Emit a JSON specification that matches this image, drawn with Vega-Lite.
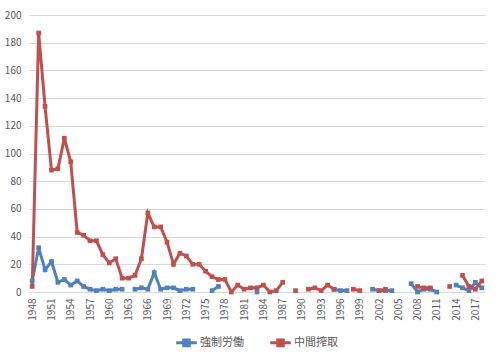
{
  "$schema": "https://vega.github.io/schema/vega-lite/v6.json",
  "autosize": {"type": "fit", "contains": "padding"},
  "width": 500,
  "height": 360,
  "padding": {"left": 4, "top": 10, "right": 12, "bottom": 8},
  "background": "white",
  "config": {
    "font": "Noto Sans CJK JP",
    "view": {"stroke": null},
    "axis": {"labelColor": "#595959", "labelFontSize": 10, "gridColor": "#D9D9D9", "domainColor": "#D9D9D9", "tickColor": "#D9D9D9"},
    "legend": {"layout": {"bottom": {"anchor": "middle"}}}
  },
  "datasets": {
    "rows": [
      {"year": 1948, "s": "強制労働", "v": 8}, {"year": 1948, "s": "中間搾取", "v": 4},
      {"year": 1949, "s": "強制労働", "v": 32}, {"year": 1949, "s": "中間搾取", "v": 187},
      {"year": 1950, "s": "強制労働", "v": 16}, {"year": 1950, "s": "中間搾取", "v": 134},
      {"year": 1951, "s": "強制労働", "v": 22}, {"year": 1951, "s": "中間搾取", "v": 88},
      {"year": 1952, "s": "強制労働", "v": 7}, {"year": 1952, "s": "中間搾取", "v": 89},
      {"year": 1953, "s": "強制労働", "v": 9}, {"year": 1953, "s": "中間搾取", "v": 111},
      {"year": 1954, "s": "強制労働", "v": 5}, {"year": 1954, "s": "中間搾取", "v": 94},
      {"year": 1955, "s": "強制労働", "v": 8}, {"year": 1955, "s": "中間搾取", "v": 43},
      {"year": 1956, "s": "強制労働", "v": 4}, {"year": 1956, "s": "中間搾取", "v": 41},
      {"year": 1957, "s": "強制労働", "v": 2}, {"year": 1957, "s": "中間搾取", "v": 37},
      {"year": 1958, "s": "強制労働", "v": 1}, {"year": 1958, "s": "中間搾取", "v": 37},
      {"year": 1959, "s": "強制労働", "v": 2}, {"year": 1959, "s": "中間搾取", "v": 27},
      {"year": 1960, "s": "強制労働", "v": 1}, {"year": 1960, "s": "中間搾取", "v": 21},
      {"year": 1961, "s": "強制労働", "v": 2}, {"year": 1961, "s": "中間搾取", "v": 24},
      {"year": 1962, "s": "強制労働", "v": 2}, {"year": 1962, "s": "中間搾取", "v": 10},
      {"year": 1963, "s": "強制労働", "v": null}, {"year": 1963, "s": "中間搾取", "v": 10},
      {"year": 1964, "s": "強制労働", "v": 2}, {"year": 1964, "s": "中間搾取", "v": 12},
      {"year": 1965, "s": "強制労働", "v": 3}, {"year": 1965, "s": "中間搾取", "v": 24},
      {"year": 1966, "s": "強制労働", "v": 2}, {"year": 1966, "s": "中間搾取", "v": 57},
      {"year": 1967, "s": "強制労働", "v": 14}, {"year": 1967, "s": "中間搾取", "v": 47},
      {"year": 1968, "s": "強制労働", "v": 2}, {"year": 1968, "s": "中間搾取", "v": 47},
      {"year": 1969, "s": "強制労働", "v": 3}, {"year": 1969, "s": "中間搾取", "v": 36},
      {"year": 1970, "s": "強制労働", "v": 3}, {"year": 1970, "s": "中間搾取", "v": 20},
      {"year": 1971, "s": "強制労働", "v": 1}, {"year": 1971, "s": "中間搾取", "v": 28},
      {"year": 1972, "s": "強制労働", "v": 2}, {"year": 1972, "s": "中間搾取", "v": 26},
      {"year": 1973, "s": "強制労働", "v": 2}, {"year": 1973, "s": "中間搾取", "v": 20},
      {"year": 1974, "s": "強制労働", "v": null}, {"year": 1974, "s": "中間搾取", "v": 20},
      {"year": 1975, "s": "強制労働", "v": null}, {"year": 1975, "s": "中間搾取", "v": 15},
      {"year": 1976, "s": "強制労働", "v": 1}, {"year": 1976, "s": "中間搾取", "v": 11},
      {"year": 1977, "s": "強制労働", "v": 4}, {"year": 1977, "s": "中間搾取", "v": 9},
      {"year": 1978, "s": "強制労働", "v": null}, {"year": 1978, "s": "中間搾取", "v": 9},
      {"year": 1979, "s": "強制労働", "v": null}, {"year": 1979, "s": "中間搾取", "v": 0},
      {"year": 1980, "s": "強制労働", "v": null}, {"year": 1980, "s": "中間搾取", "v": 5},
      {"year": 1981, "s": "強制労働", "v": null}, {"year": 1981, "s": "中間搾取", "v": 2},
      {"year": 1982, "s": "強制労働", "v": null}, {"year": 1982, "s": "中間搾取", "v": 3},
      {"year": 1983, "s": "強制労働", "v": 0}, {"year": 1983, "s": "中間搾取", "v": 3},
      {"year": 1984, "s": "強制労働", "v": null}, {"year": 1984, "s": "中間搾取", "v": 5},
      {"year": 1985, "s": "強制労働", "v": null}, {"year": 1985, "s": "中間搾取", "v": 0},
      {"year": 1986, "s": "強制労働", "v": null}, {"year": 1986, "s": "中間搾取", "v": 1},
      {"year": 1987, "s": "強制労働", "v": null}, {"year": 1987, "s": "中間搾取", "v": 7},
      {"year": 1988, "s": "強制労働", "v": null}, {"year": 1988, "s": "中間搾取", "v": null},
      {"year": 1989, "s": "強制労働", "v": null}, {"year": 1989, "s": "中間搾取", "v": 1},
      {"year": 1990, "s": "強制労働", "v": null}, {"year": 1990, "s": "中間搾取", "v": null},
      {"year": 1991, "s": "強制労働", "v": null}, {"year": 1991, "s": "中間搾取", "v": 2},
      {"year": 1992, "s": "強制労働", "v": null}, {"year": 1992, "s": "中間搾取", "v": 3},
      {"year": 1993, "s": "強制労働", "v": null}, {"year": 1993, "s": "中間搾取", "v": 1},
      {"year": 1994, "s": "強制労働", "v": null}, {"year": 1994, "s": "中間搾取", "v": 5},
      {"year": 1995, "s": "強制労働", "v": 2}, {"year": 1995, "s": "中間搾取", "v": 2},
      {"year": 1996, "s": "強制労働", "v": 1}, {"year": 1996, "s": "中間搾取", "v": null},
      {"year": 1997, "s": "強制労働", "v": 1}, {"year": 1997, "s": "中間搾取", "v": null},
      {"year": 1998, "s": "強制労働", "v": null}, {"year": 1998, "s": "中間搾取", "v": 2},
      {"year": 1999, "s": "強制労働", "v": null}, {"year": 1999, "s": "中間搾取", "v": 1},
      {"year": 2000, "s": "強制労働", "v": null}, {"year": 2000, "s": "中間搾取", "v": null},
      {"year": 2001, "s": "強制労働", "v": 2}, {"year": 2001, "s": "中間搾取", "v": null},
      {"year": 2002, "s": "強制労働", "v": 1}, {"year": 2002, "s": "中間搾取", "v": 1},
      {"year": 2003, "s": "強制労働", "v": 1}, {"year": 2003, "s": "中間搾取", "v": 2},
      {"year": 2004, "s": "強制労働", "v": 1}, {"year": 2004, "s": "中間搾取", "v": null},
      {"year": 2005, "s": "強制労働", "v": null}, {"year": 2005, "s": "中間搾取", "v": null},
      {"year": 2006, "s": "強制労働", "v": null}, {"year": 2006, "s": "中間搾取", "v": null},
      {"year": 2007, "s": "強制労働", "v": 6}, {"year": 2007, "s": "中間搾取", "v": null},
      {"year": 2008, "s": "強制労働", "v": 0}, {"year": 2008, "s": "中間搾取", "v": 4},
      {"year": 2009, "s": "強制労働", "v": 2}, {"year": 2009, "s": "中間搾取", "v": 3},
      {"year": 2010, "s": "強制労働", "v": 2}, {"year": 2010, "s": "中間搾取", "v": 3},
      {"year": 2011, "s": "強制労働", "v": 0}, {"year": 2011, "s": "中間搾取", "v": null},
      {"year": 2012, "s": "強制労働", "v": null}, {"year": 2012, "s": "中間搾取", "v": null},
      {"year": 2013, "s": "強制労働", "v": null}, {"year": 2013, "s": "中間搾取", "v": 4},
      {"year": 2014, "s": "強制労働", "v": 5}, {"year": 2014, "s": "中間搾取", "v": null},
      {"year": 2015, "s": "強制労働", "v": 3}, {"year": 2015, "s": "中間搾取", "v": 12},
      {"year": 2016, "s": "強制労働", "v": 1}, {"year": 2016, "s": "中間搾取", "v": 4},
      {"year": 2017, "s": "強制労働", "v": 7}, {"year": 2017, "s": "中間搾取", "v": 2},
      {"year": 2018, "s": "強制労働", "v": 3}, {"year": 2018, "s": "中間搾取", "v": 8}
    ]
  },
  "data": {"name": "rows"},
  "encoding": {
    "x": {
      "field": "year", "type": "ordinal", "title": null,
      "scale": {"padding": 0.5},
      "axis": {"values": [1948,1951,1954,1957,1960,1963,1966,1969,1972,1975,1978,1981,1984,1987,1990,1993,1996,1999,2002,2005,2008,2011,2014,2017], "labelAngle": -90, "labelAlign": "right", "labelBaseline": "middle", "ticks": false, "labelPadding": 6, "domainColor": "#D9D9D9"}
    },
    "y": {
      "field": "v", "type": "quantitative", "title": null,
      "scale": {"domain": [0, 200], "nice": false},
      "axis": {"values": [0,20,40,60,80,100,120,140,160,180,200], "domain": false, "ticks": false, "labelPadding": 8}
    },
    "color": {
      "field": "s", "type": "nominal", "title": null,
      "scale": {"domain": ["強制労働", "中間搾取"], "range": ["#4F81BD", "#C0504D"]},
      "legend": {"orient": "bottom", "direction": "horizontal", "labelFontSize": 11, "labelColor": "#595959", "symbolType": "M-1.3,0H1.3M-0.35,-0.35H0.35V0.35H-0.35Z", "symbolSize": 250, "symbolStrokeWidth": 3, "columnPadding": 20, "offset": 12}
    }
  },
  "layer": [
    {"mark": {"type": "line", "strokeWidth": 3, "invalid": "break-paths-show-domains"}},
    {"mark": {"type": "square", "size": 22, "opacity": 1, "filled": true, "invalid": "filter"}, "encoding": {"color": {"field": "s", "type": "nominal", "legend": null}}}
  ]
}
